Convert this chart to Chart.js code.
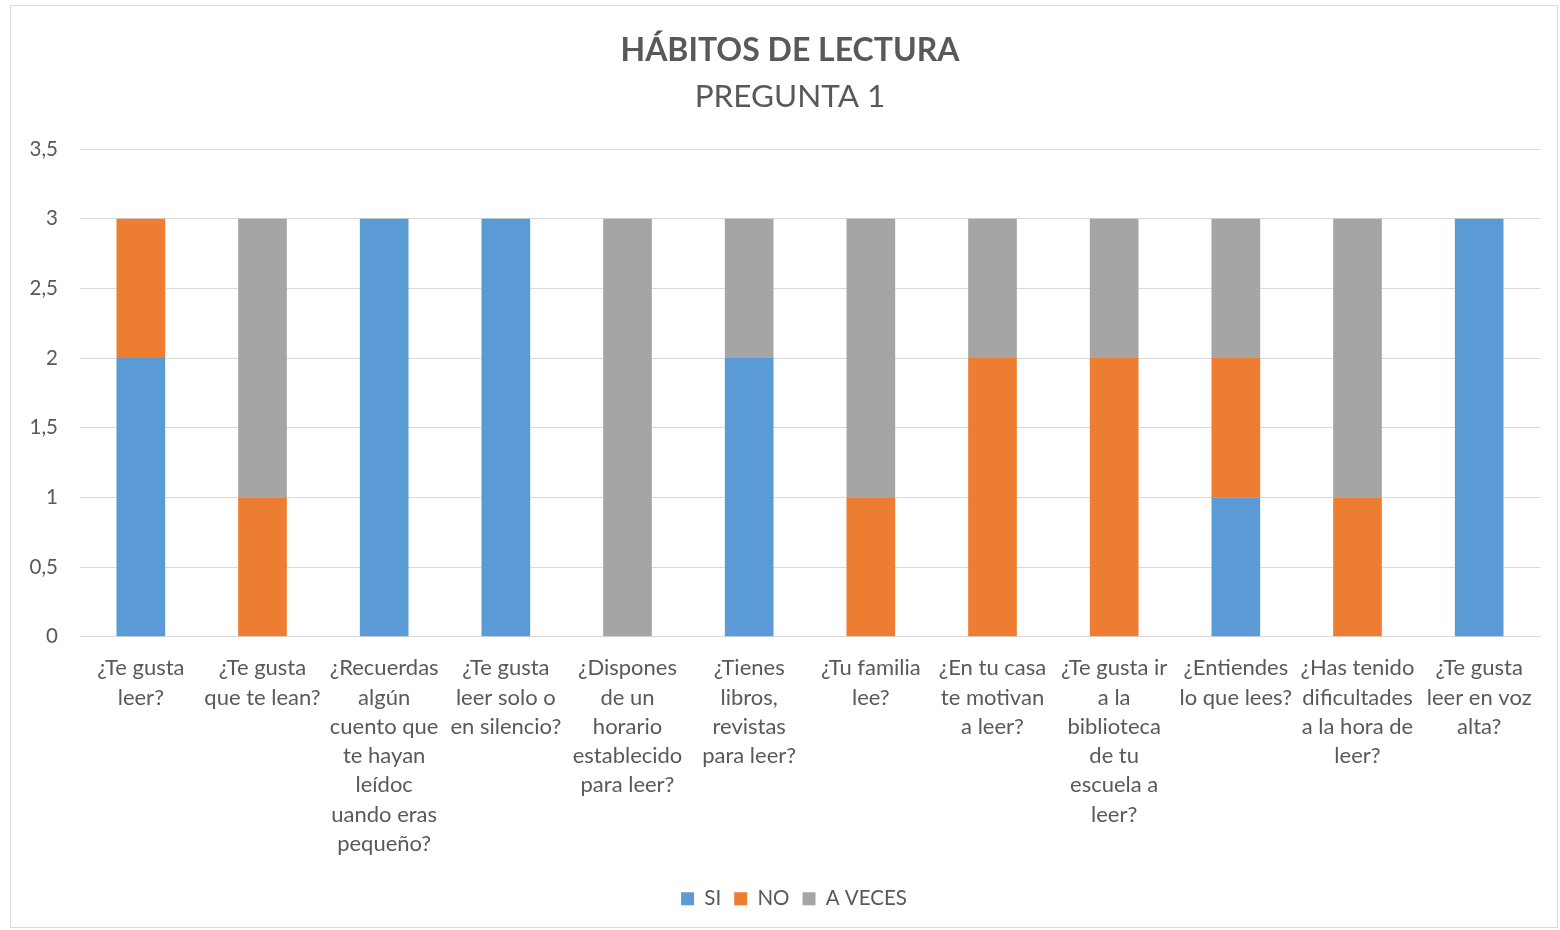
<!DOCTYPE html>
<html lang="es">
<head>
    <meta charset="UTF-8">
    <title>Hábitos de lectura</title>
    <script src="https://cdn.jsdelivr.net/npm/chart.js"></script>
    <style>
        body { margin: 0; background: #fff; }
        #frame {
            position: absolute; left: 10px; top: 5px;
            width: 1546px; height: 921px;
            border: 1px solid #d9d9d9; background: #fff;
        }
    </style>
</head>
<body>
    <div id="frame"><canvas id="chart"></canvas></div>

    <script>
        // Categories (already wrapped as in the picture)
        const categories = [
            ['¿Te gusta', 'leer?'],
            ['¿Te gusta', 'que te lean?'],
            ['¿Recuerdas', 'algún', 'cuento que', 'te hayan', 'leídoc', 'uando eras', 'pequeño?'],
            ['¿Te gusta', 'leer solo o', 'en silencio?'],
            ['¿Dispones', 'de un', 'horario', 'establecido', 'para leer?'],
            ['¿Tienes', 'libros,', 'revistas', 'para leer?'],
            ['¿Tu familia', 'lee?'],
            ['¿En tu casa', 'te motivan', 'a leer?'],
            ['¿Te gusta ir', 'a la', 'biblioteca', 'de tu', 'escuela a', 'leer?'],
            ['¿Entiendes', 'lo que lees?'],
            ['¿Has tenido', 'dificultades', 'a la hora de', 'leer?'],
            ['¿Te gusta', 'leer en voz', 'alta?']
        ];

        const si      = [2, 0, 3, 3, 0, 2, 0, 0, 0, 1, 0, 3];
        const no      = [1, 1, 0, 0, 0, 0, 1, 2, 2, 1, 1, 0];
        const aVeces  = [0, 2, 0, 0, 3, 1, 2, 1, 1, 1, 2, 0];

        const textColor = '#595959';
        const gridColor = '#d9d9d9';
        const fontFamily = 'Lato, "Open Sans", sans-serif';

        // Excel centres the titles and legend a bit to the right of the canvas middle
        const nudgeBoxes = {
            id: 'nudgeBoxes',
            afterLayout(chart) {
                chart.boxes.forEach(b => {
                    if (b.isHorizontal && b.isHorizontal() && !b.axis) {
                        const dx = b.position === 'bottom' ? 13 : 9;
                        b.left += dx;
                        b.right += dx;
                    }
                });
            }
        };

        const ctx = document.getElementById('chart').getContext('2d');
        new Chart(ctx, {
            type: 'bar',
            data: {
                labels: categories,
                datasets: [
                    { label: 'SI', data: si, backgroundColor: '#5b9bd5' },
                    { label: 'NO', data: no, backgroundColor: '#ed7d31' },
                    { label: 'A VECES', data: aVeces, backgroundColor: '#a5a5a5' }
                ]
            },
            plugins: [nudgeBoxes],
            options: {
                responsive: true,
                maintainAspectRatio: false,
                animation: false,
                layout: { padding: { left: 11, right: 17, top: 14, bottom: 8 } },
                datasets: { bar: { categoryPercentage: 1, barPercentage: 0.4 } },
                plugins: {
                    title: {
                        display: true,
                        text: 'HÁBITOS DE LECTURA',
                        color: textColor,
                        font: { family: fontFamily, size: 32, weight: 'bold' },
                        padding: { top: 11, bottom: 9 }
                    },
                    subtitle: {
                        display: true,
                        text: 'PREGUNTA 1',
                        color: textColor,
                        font: { family: fontFamily, size: 31.5 },
                        padding: { bottom: 33 }
                    },
                    legend: {
                        position: 'bottom',
                        labels: {
                            color: textColor,
                            font: { family: fontFamily, size: 20.5 },
                            boxWidth: 13,
                            boxHeight: 13,
                            padding: 13
                        }
                    },
                    tooltip: { enabled: false }
                },
                scales: {
                    x: {
                        stacked: true,
                        grid: { display: false, drawTicks: false },
                        border: { color: gridColor },
                        ticks: {
                            color: textColor,
                            font: { family: fontFamily, size: 22, lineHeight: 1.33 },
                            maxRotation: 0,
                            autoSkip: false,
                            padding: 17
                        }
                    },
                    y: {
                        stacked: true,
                        min: 0,
                        max: 3.5,
                        afterFit: axis => { axis.width = 58; },
                        grid: { color: gridColor, drawTicks: false },
                        border: { display: false },
                        ticks: {
                            stepSize: 0.5,
                            color: textColor,
                            font: { family: fontFamily, size: 20.5 },
                            padding: 22,
                            callback: v => String(v).replace('.', ',')
                        }
                    }
                }
            }
        });
    </script>
</body>
</html>
